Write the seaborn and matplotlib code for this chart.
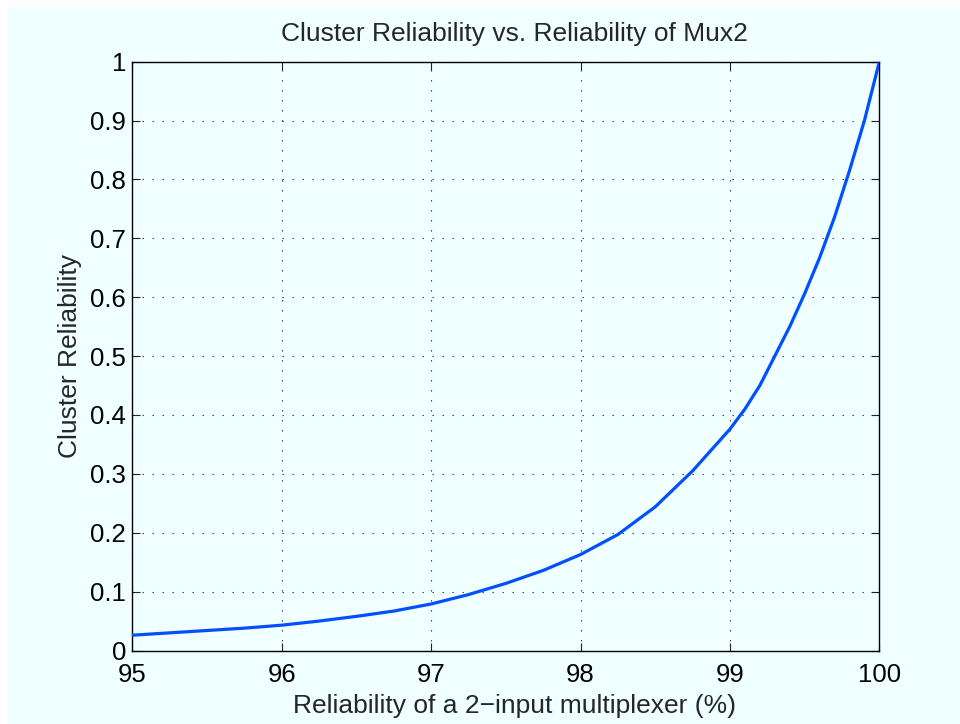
import matplotlib
matplotlib.use("Agg")
import matplotlib.pyplot as plt
import matplotlib.patches as mpatches
import pandas as pd
import seaborn as sns

# Mux2 reliability (%) and the resulting cluster reliability
mux_reliability = [95.0, 95.25, 95.5, 95.75, 96.0, 96.25, 96.5, 96.75,
                   97.0, 97.25, 97.5, 97.75, 98.0, 98.25, 98.5, 98.75,
                   99.0, 99.1, 99.2, 99.3, 99.4, 99.5, 99.6, 99.7, 99.8,
                   99.9, 100.0]
cluster_reliability = [0.026, 0.030, 0.034, 0.038, 0.043, 0.050, 0.058,
                       0.067, 0.079, 0.095, 0.114, 0.136, 0.163, 0.197,
                       0.244, 0.305, 0.376, 0.410, 0.450, 0.500, 0.550,
                       0.606, 0.667, 0.736, 0.815, 0.900, 1.000]

x_ticks = [95, 96, 97, 98, 99, 100]
y_ticks = [0, 0.1, 0.2, 0.3, 0.4, 0.5, 0.6, 0.7, 0.8, 0.9, 1.0]
y_tick_labels = ["0", "0.1", "0.2", "0.3", "0.4", "0.5", "0.6", "0.7",
                 "0.8", "0.9", "1"]

df = pd.DataFrame({"mux": mux_reliability, "cluster": cluster_reliability})

sns.set_style("ticks")
plt.rcParams["font.family"] = ["Liberation Sans", "DejaVu Sans"]
plt.rcParams["xtick.direction"] = "in"
plt.rcParams["ytick.direction"] = "in"

bg = "#F0FFFF"
fig = plt.figure(figsize=(9.6, 7.24), dpi=100, facecolor="white")
fig.patches.append(mpatches.Rectangle((7 / 960, 0), 1, 1 - 7 / 724,
                                      transform=fig.transFigure,
                                      facecolor=bg, edgecolor="none",
                                      zorder=-10))
ax = fig.add_axes([0.1378, 0.1015, 0.916 - 0.1378, 0.9148 - 0.1015])
ax.set_facecolor(bg)

sns.lineplot(data=df, x="mux", y="cluster", ax=ax, color="#0050FF",
             linewidth=2.3, zorder=3)

ax.set_xlim(95, 100)
ax.set_ylim(0, 1)
ax.set_xticks(x_ticks)
ax.set_xticklabels([str(t) for t in x_ticks])
ax.set_yticks(y_ticks)
ax.set_yticklabels(y_tick_labels)

ax.grid(True, color="#303030", linestyle=(0, (1.2, 7.8)), linewidth=0.8)
ax.tick_params(axis="both", which="both", length=6, width=0.8,
               top=True, right=True, labelsize=18.5, color="#202020",
               labelcolor="black")
ax.tick_params(axis="x", pad=9)
ax.tick_params(axis="y", pad=4.5)
for side in ax.spines.values():
    side.set_visible(True)
    side.set_linewidth(1.0)
    side.set_color("black")

ax.set_title("Cluster Reliability vs. Reliability of Mux2", fontsize=19,
             pad=15, x=0.511)
ax.set_xlabel("Reliability of a 2\u2212input multiplexer (%)", fontsize=19,
              labelpad=5, x=0.511)
ax.set_ylabel("Cluster Reliability", fontsize=19, labelpad=6)

fig.savefig("out.png", dpi=100, facecolor=fig.get_facecolor())
